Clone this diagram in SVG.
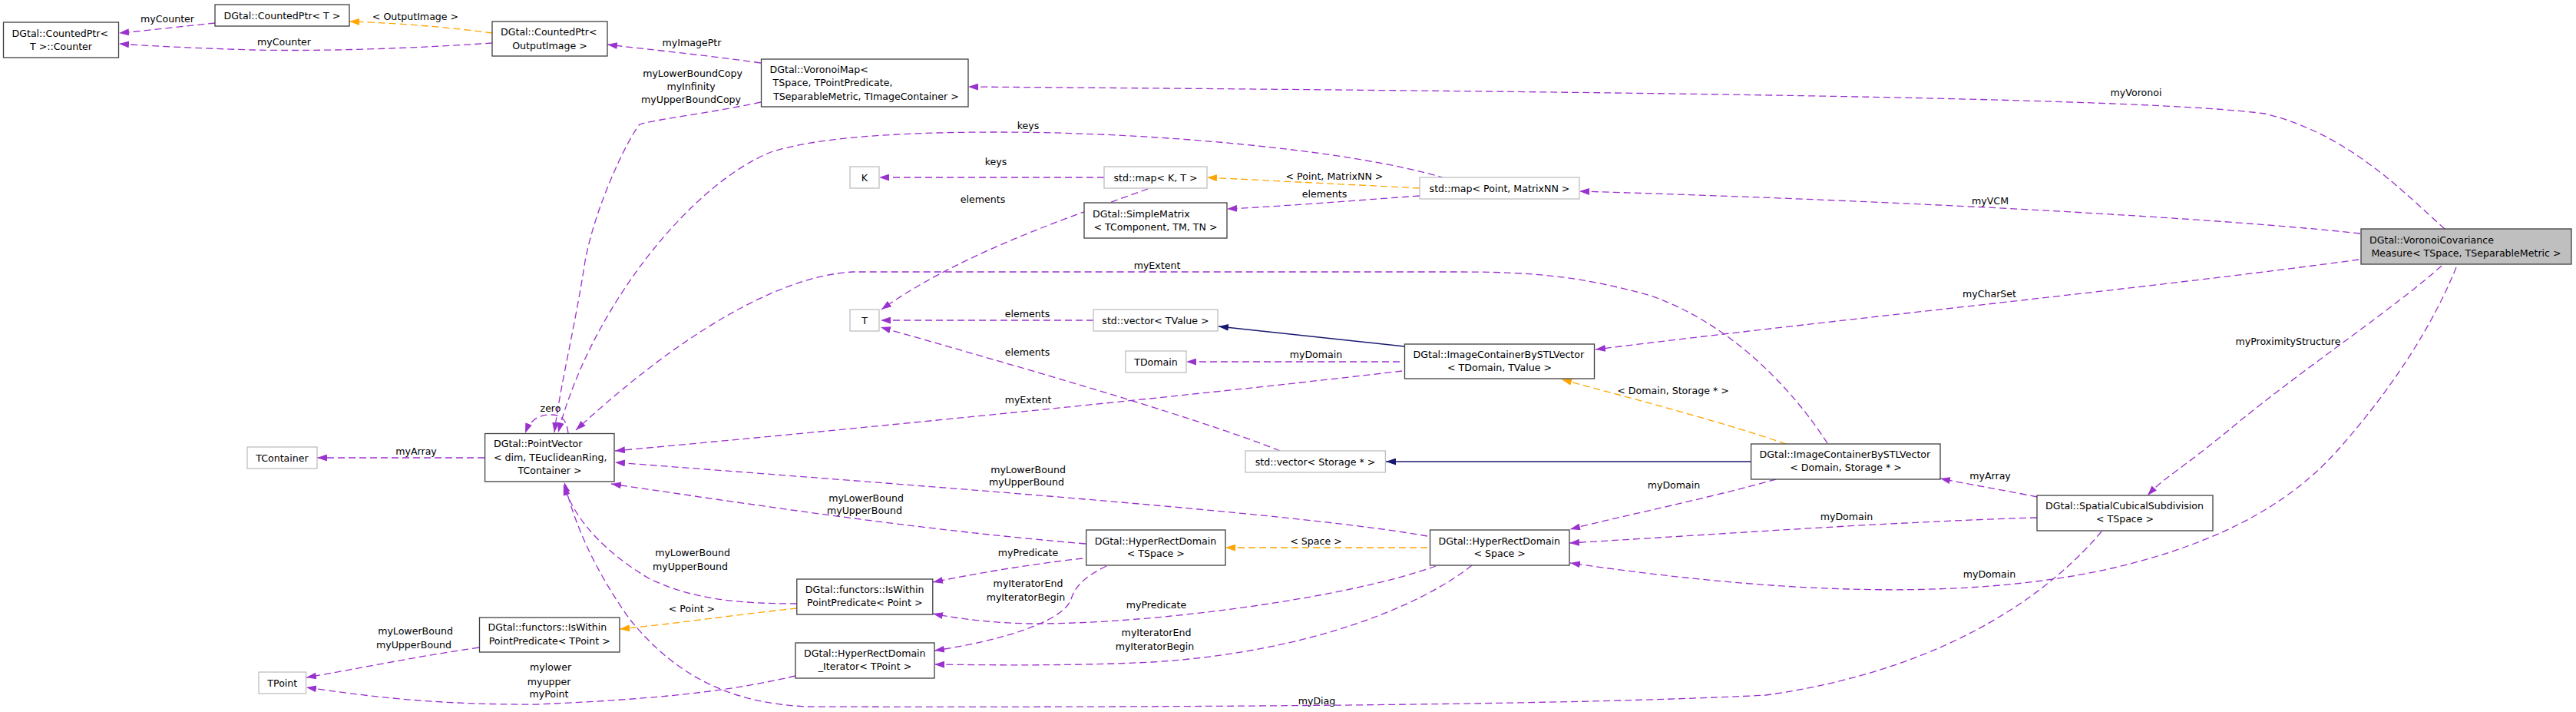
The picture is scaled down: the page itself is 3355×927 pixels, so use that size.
<svg xmlns="http://www.w3.org/2000/svg" width="3355" height="927" viewBox="0 0 3355 927">
<style>
text{font-family:"DejaVu Sans","Liberation Sans",sans-serif;font-size:12.6px;fill:#000}
.n rect{fill:#fff;stroke:#404040;stroke-width:1.3}
.g rect{fill:#fff;stroke:#bfbfbf;stroke-width:1.3}
.m rect{fill:#bfbfbf;stroke:#404040;stroke-width:1.3}
.c{text-anchor:middle}
#edges path{fill:none;stroke:#9a32cd;stroke-width:1.3;stroke-dasharray:9,5}
#edges path.o{stroke:#ffa500}
#edges path.i{stroke:#191970;stroke-dasharray:none}
#edges path.p{marker-end:url(#ap)}
#edges path.o{marker-end:url(#ao)}
#edges path.i{marker-end:url(#ai)}
</style>
<defs>
<marker id="ap" viewBox="0 0 13 9" refX="13" refY="4.5" markerWidth="13" markerHeight="9" markerUnits="userSpaceOnUse" orient="auto"><path d="M0,0 L13,4.5 L0,9 z" fill="#9a32cd"/></marker>
<marker id="ao" viewBox="0 0 13 9" refX="13" refY="4.5" markerWidth="13" markerHeight="9" markerUnits="userSpaceOnUse" orient="auto"><path d="M0,0 L13,4.5 L0,9 z" fill="#ffa500"/></marker>
<marker id="ai" viewBox="0 0 13 9" refX="13" refY="4.5" markerWidth="13" markerHeight="9" markerUnits="userSpaceOnUse" orient="auto"><path d="M0,0 L13,4.5 L0,9 z" fill="#191970"/></marker>
</defs>
<rect width="3355" height="927" fill="#fff"/>
<g id="edges">
<path class="p" d="M280,30 C240,34 200,39 155,43"/>
<text class="c" x="218" y="28.5">myCounter</text>
<path class="o" d="M641,43 C590,36 520,30 455,28"/>
<text class="c" x="541" y="25.5">&lt; OutputImage &gt;</text>
<path class="p" d="M641,56 C540,63 420,67 330,65 C260,63 200,60 155,57"/>
<text class="c" x="370" y="58.5">myCounter</text>
<path class="p" d="M991,82 C920,72 850,65 791,58"/>
<text class="c" x="901" y="59.5">myImagePtr</text>
<path class="p" d="M991,133 C920,148 850,156 833,162 C815,185 775,270 762,340 C750,420 730,500 722,563"/>
<text class="c" x="902" y="99.5">myLowerBoundCopy</text>
<text class="c" x="900" y="116.5">myInfinity</text>
<text class="c" x="900" y="133.5">myUpperBoundCopy</text>
<path class="p" d="M1882,232 C1760,195 1500,172 1300,172 C1160,172 1060,180 1004,198 C900,240 770,400 727,563"/>
<text class="c" x="1339" y="167.5">keys</text>
<path class="p" d="M3184,298 C3130,250 3060,175 2950,148 C2800,128 2200,120 1261,113"/>
<text class="c" x="2782" y="124.5">myVoronoi</text>
<path class="p" d="M3074,304 C2900,285 2500,262 2057,249"/>
<text class="c" x="2592" y="265.5">myVCM</text>
<path class="p" d="M3072,338 C2800,375 2400,415 2078,455"/>
<text class="c" x="2591" y="386.5">myCharSet</text>
<path class="p" d="M3180,346 C3120,400 3000,480 2915,550 S2820,620 2797,645"/>
<text class="c" x="2980" y="448.5">myProximityStructure</text>
<path class="p" d="M3199,348 C3170,420 3120,500 3050,580 C2990,650 2900,705 2750,740 C2550,785 2300,770 2045,733"/>
<text class="c" x="2591" y="751.5">myDomain</text>
<path class="p" d="M2737,692 C2680,760 2550,870 2300,905 C2000,921 1300,921 1050,920 C950,915 880,880 820,806 C780,750 750,690 735,628"/>
<text class="c" x="1715" y="916.5">myDiag</text>
<path class="p" d="M2653,647 C2610,638 2560,630 2527,623"/>
<text class="c" x="2592" y="623.5">myArray</text>
<path class="p" d="M2653,674 C2450,680 2250,695 2044,707"/>
<text class="c" x="2405" y="676.5">myDomain</text>
<path class="o" d="M2326,578 C2230,545 2110,515 2034,494"/>
<text class="c" x="2179" y="512.5">&lt; Domain, Storage * &gt;</text>
<path class="p" d="M2380,577 C2330,500 2250,420 2150,385 C2060,360 2000,354 1900,354 L1110,354 C1010,360 880,440 750,560"/>
<text class="c" x="1507" y="349.5">myExtent</text>
<path class="i" d="M2280,601 L1805,601"/>
<path class="p" d="M2313,624 C2220,650 2120,670 2045,689"/>
<text class="c" x="2180" y="635.5">myDomain</text>
<path class="i" d="M1829,451 L1587,425"/>
<path class="p" d="M1823,471 L1545,471"/>
<text class="c" x="1714" y="465.5">myDomain</text>
<path class="p" d="M1826,483 C1600,510 1100,560 801,587"/>
<text class="c" x="1339" y="524.5">myExtent</text>
<path class="p" d="M1424,417 L1147,417"/>
<text class="c" x="1338" y="412.5">elements</text>
<path class="p" d="M1667,587 C1550,540 1300,470 1147,426"/>
<text class="c" x="1338" y="462.5">elements</text>
<path class="p" d="M1859,698 C1700,670 1300,640 801,602"/>
<text class="c" x="1339" y="615.5">myLowerBound</text>
<text class="c" x="1337" y="631.5">myUpperBound</text>
<path class="o" d="M1859,713 L1596,713"/>
<text class="c" x="1714" y="708.5">&lt; Space &gt;</text>
<path class="p" d="M1870,737 C1750,780 1500,812 1350,812 C1300,812 1250,806 1215,799"/>
<text class="c" x="1506" y="791.5">myPredicate</text>
<path class="p" d="M1917,736 C1850,790 1700,850 1500,862 C1400,867 1300,866 1217,865"/>
<text class="c" x="1506" y="827.5">myIteratorEnd</text>
<text class="c" x="1504" y="845.5">myIteratorBegin</text>
<path class="p" d="M1414,708 C1200,690 1000,660 796,630"/>
<text class="c" x="1128" y="652.5">myLowerBound</text>
<text class="c" x="1126" y="668.5">myUpperBound</text>
<path class="p" d="M1410,727 C1340,735 1280,745 1215,758"/>
<text class="c" x="1339" y="723.5">myPredicate</text>
<path class="p" d="M1441,737 C1410,752 1400,765 1395,780 C1385,810 1300,835 1217,847"/>
<text class="c" x="1339" y="763.5">myIteratorEnd</text>
<text class="c" x="1336" y="781.5">myIteratorBegin</text>
<path class="p" d="M1038,786 C960,786 900,780 845,753 C790,720 750,680 734,632"/>
<text class="c" x="902" y="723.5">myLowerBound</text>
<text class="c" x="899" y="741.5">myUpperBound</text>
<path class="o" d="M1038,792 C960,800 880,812 807,819"/>
<text class="c" x="901" y="796.5">&lt; Point &gt;</text>
<path class="p" d="M624,843 C540,855 470,870 399,882"/>
<text class="c" x="541" y="825.5">myLowerBound</text>
<text class="c" x="539" y="843.5">myUpperBound</text>
<path class="p" d="M1036,880 C950,900 860,910 700,917 C560,918 470,905 399,895"/>
<text class="c" x="717" y="872.5">mylower</text>
<text class="c" x="715" y="891.5">myupper</text>
<text class="c" x="715" y="907.5">myPoint</text>
<path class="p" d="M631,596 L413,596"/>
<text class="c" x="542" y="591.5">myArray</text>
<path class="p" d="M740,564 C738,545 730,540 717,540 C700,540 690,548 684,564"/>
<text class="c" x="717" y="535.5">zero</text>
<path class="p" d="M1495,246 C1400,280 1250,330 1148,403"/>
<text class="c" x="1280" y="263.5">elements</text>
<path class="p" d="M1438,231 L1145,231"/>
<text class="c" x="1297" y="214.5">keys</text>
<path class="o" d="M1849,245 C1750,240 1650,235 1572,231"/>
<text class="c" x="1738" y="233.5">&lt; Point, MatrixNN &gt;</text>
<path class="p" d="M1849,255 C1750,262 1680,268 1598,272"/>
<text class="c" x="1725" y="256.5">elements</text>
</g>
<g id="counter" class="n"><rect x="4.5" y="29" width="150" height="46"/><text x="15.5" y="47.8">DGtal::CountedPtr&lt;</text><text class="c" x="79.5" y="64.5">T &gt;::Counter</text></g>
<g id="countedptr_t" class="n"><rect x="280" y="6" width="175" height="28"/><text class="c" x="367.5" y="24.5">DGtal::CountedPtr&lt; T &gt;</text></g>
<g id="countedptr_out" class="n"><rect x="641" y="28" width="150" height="45"/><text x="652" y="46.2">DGtal::CountedPtr&lt;</text><text class="c" x="716" y="63.8">OutputImage &gt;</text></g>
<g id="voronoimap" class="n"><rect x="991.5" y="77" width="269.5" height="62"/><text x="1002.5" y="94.5">DGtal::VoronoiMap&lt;</text><text x="1002.5" y="111.8" xml:space="preserve"> TSpace, TPointPredicate,</text><text class="c" x="1126" y="129.5" xml:space="preserve"> TSeparableMetric, TImageContainer &gt;</text></g>
<g id="k" class="g"><rect x="1107" y="217" width="38" height="28"/><text class="c" x="1126" y="235.5">K</text></g>
<g id="map_kt" class="g"><rect x="1438" y="217" width="134" height="28"/><text class="c" x="1505" y="235.5">std::map&lt; K, T &gt;</text></g>
<g id="simplematrix" class="n"><rect x="1412" y="264" width="186" height="46"/><text x="1423" y="282.5">DGtal::SimpleMatrix</text><text class="c" x="1505" y="299.5">&lt; TComponent, TM, TN &gt;</text></g>
<g id="map_point" class="g"><rect x="1849" y="231" width="208" height="28"/><text class="c" x="1953" y="249.5">std::map&lt; Point, MatrixNN &gt;</text></g>
<g id="t" class="g"><rect x="1107" y="403" width="38" height="28"/><text class="c" x="1126" y="421.5">T</text></g>
<g id="vector_tvalue" class="g"><rect x="1424" y="403" width="162" height="28"/><text class="c" x="1505" y="421.5">std::vector&lt; TValue &gt;</text></g>
<g id="tdomain" class="g"><rect x="1466" y="457" width="79" height="28"/><text class="c" x="1505.5" y="475.5">TDomain</text></g>
<g id="image_tdomain" class="n"><rect x="1829.5" y="448" width="247" height="45"/><text x="1840.5" y="465.5">DGtal::ImageContainerBySTLVector</text><text class="c" x="1953" y="482.8">&lt; TDomain, TValue &gt;</text></g>
<g id="tcontainer" class="g"><rect x="322" y="582" width="91" height="28"/><text class="c" x="367.5" y="600.5">TContainer</text></g>
<g id="pointvector" class="n"><rect x="631.6" y="564.5" width="168.4" height="62.5"/><text x="643" y="582.2">DGtal::PointVector</text><text x="643" y="599.5">&lt; dim, TEuclideanRing,</text><text class="c" x="716" y="617">TContainer &gt;</text></g>
<g id="vector_storage" class="g"><rect x="1622" y="587" width="182.4" height="28"/><text class="c" x="1713" y="605.5">std::vector&lt; Storage * &gt;</text></g>
<g id="image_domain" class="n"><rect x="2280.6" y="578" width="246.4" height="46"/><text x="2291.6" y="596.2">DGtal::ImageContainerBySTLVector</text><text class="c" x="2404" y="613.2">&lt; Domain, Storage * &gt;</text></g>
<g id="spatialcubical" class="n"><rect x="2653" y="645" width="229" height="46"/><text x="2664" y="663.2">DGtal::SpatialCubicalSubdivision</text><text class="c" x="2767.5" y="680.2">&lt; TSpace &gt;</text></g>
<g id="hrd_tspace" class="n"><rect x="1414.7" y="690" width="181.3" height="46"/><text x="1425.7" y="708.5">DGtal::HyperRectDomain</text><text class="c" x="1505.3" y="725.2">&lt; TSpace &gt;</text></g>
<g id="hrd_space" class="n"><rect x="1862.5" y="690" width="181.5" height="46"/><text x="1873.5" y="708.5">DGtal::HyperRectDomain</text><text class="c" x="1953.2" y="725.2">&lt; Space &gt;</text></g>
<g id="iswithin_point" class="n"><rect x="1037.8" y="754" width="177" height="46"/><text x="1048.8" y="772.2">DGtal::functors::IsWithin</text><text class="c" x="1126.3" y="788.8">PointPredicate&lt; Point &gt;</text></g>
<g id="iswithin_tpoint" class="n"><rect x="624.5" y="804" width="182.5" height="45"/><text x="635.5" y="821.2">DGtal::functors::IsWithin</text><text class="c" x="715.75" y="838.8">PointPredicate&lt; TPoint &gt;</text></g>
<g id="hrd_iterator" class="n"><rect x="1036" y="837" width="181" height="46"/><text x="1047" y="855.2">DGtal::HyperRectDomain</text><text class="c" x="1126.5" y="872.2">_Iterator&lt; TPoint &gt;</text></g>
<g id="tpoint" class="g"><rect x="337" y="875" width="61.6" height="28"/><text class="c" x="367.8" y="893.5">TPoint</text></g>
<g id="main" class="m"><rect x="3075" y="298" width="274" height="46"/><text x="3086" y="316.8">DGtal::VoronoiCovariance</text><text class="c" x="3212" y="333.8">Measure&lt; TSpace, TSeparableMetric &gt;</text></g>
</svg>
